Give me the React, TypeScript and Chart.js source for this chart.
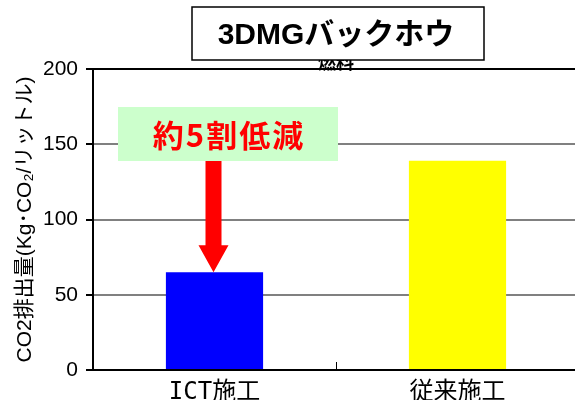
import React, { useEffect, useRef } from "react";
import { Chart, registerables } from "chart.js";
Chart.register(...registerables);

const categories = ["ICT施工", "従来施工"];
const values = [65, 139];
const barColors = ["#0000FF", "#FFFF00"];
const yMin = 0;
const yMax = 200;
const yStep = 50;
const titleText = "3DMGバックホウ";
const hiddenSubtitle = "燃料";
const yAxisTitle = "CO2排出量(Kg･CO₂/リットル)";
const calloutText = "約5割低減";

const FONT = "'Liberation Sans', 'Noto Sans CJK JP', sans-serif";
const XFONT = "'DejaVu Sans Mono', 'Noto Sans CJK JP', sans-serif";

const decorPlugin = {
  id: "decor",
  afterDraw(chart: any) {
    const { ctx, chartArea, scales } = chart;
    const x = scales.x;
    const y = scales.y;
    ctx.save();
    // inner tick between categories
    const mid = (x.getPixelForValue(0) + x.getPixelForValue(1)) / 2;
    ctx.strokeStyle = "#000";
    ctx.lineWidth = 1;
    ctx.beginPath();
    ctx.moveTo(Math.round(mid) + 0.5, chartArea.bottom - 8);
    ctx.lineTo(Math.round(mid) + 0.5, chartArea.bottom);
    ctx.stroke();

    // hidden subtitle behind title box
    const cx = 336;
    ctx.fillStyle = "#000";
    ctx.font = "bold 18px 'Noto Sans CJK JP', sans-serif";
    ctx.textAlign = "center";
    ctx.textBaseline = "middle";
    ctx.fillText(hiddenSubtitle, cx, 62);
    ctx.strokeStyle = "#000";
    ctx.lineWidth = 2;
    ctx.beginPath();
    ctx.moveTo(chartArea.left, y.getPixelForValue(yMax));
    ctx.lineTo(chartArea.right, y.getPixelForValue(yMax));
    ctx.stroke();
    // title box
    ctx.fillStyle = "#fff";
    ctx.fillRect(192, 7, 292, 53);
    ctx.strokeStyle = "#000";
    ctx.lineWidth = 1.5;
    ctx.strokeRect(192, 7, 292, 53);
    ctx.fillStyle = "#000";
    ctx.font = `bold 30px ${FONT}`;
    ctx.fillText(titleText, cx, 36);

    // callout box
    ctx.fillStyle = "#CCFFCC";
    ctx.fillRect(118, 107, 220, 54);
    ctx.fillStyle = "#FF0000";
    ctx.font = `bold 31px 'Noto Sans CJK JP', sans-serif`;
    (ctx as any).letterSpacing = "2px";
    ctx.fillText(calloutText, 229, 135);
    (ctx as any).letterSpacing = "0px";

    // arrow to ICT bar top
    const ax = x.getPixelForValue(0) - 1;
    const tipY = y.getPixelForValue(values[0]);
    const headH = 27;
    ctx.fillStyle = "#FF0000";
    ctx.beginPath();
    ctx.moveTo(ax - 8, 161);
    ctx.lineTo(ax + 8, 161);
    ctx.lineTo(ax + 8, tipY - headH);
    ctx.lineTo(ax + 15, tipY - headH);
    ctx.lineTo(ax, tipY);
    ctx.lineTo(ax - 15, tipY - headH);
    ctx.lineTo(ax - 8, tipY - headH);
    ctx.closePath();
    ctx.fill();
    ctx.restore();
  },
};

export default function App() {
  const ref = useRef<HTMLCanvasElement>(null);
  useEffect(() => {
    if (!ref.current) return;
    const chart = new Chart(ref.current, {
      type: "bar",
      data: {
        labels: categories,
        datasets: [
          {
            data: values,
            backgroundColor: barColors,
            borderWidth: 0,
            barPercentage: 0.4,
            categoryPercentage: 1,
          },
        ],
      },
      options: {
        responsive: false,
        animation: false,
        devicePixelRatio: 1,
        layout: { padding: { top: 69, left: 0, right: 0, bottom: 0 } },
        plugins: { legend: { display: false }, tooltip: { enabled: false }, title: { display: false } },
        scales: {
          x: {
            grid: { display: false },
            border: { display: true, color: "#000", width: 2 },
            ticks: { color: "#000", font: { size: 24, family: XFONT }, padding: 0 },
            afterFit: (s: any) => {
              s.height = 30;
            },
          },
          y: {
            min: yMin,
            max: yMax,
            ticks: {
              stepSize: yStep,
              color: "#000",
              font: { size: 21, family: FONT },
              padding: 8,
            },
            grid: {
              color: (c: any) => (c.tick && c.tick.value === yMax ? "#000" : "#808080"),
              lineWidth: 2,
              tickColor: "#000",
              tickLength: 7,
            },
            border: { display: true, color: "#000", width: 2 },
            title: {
              display: true,
              text: yAxisTitle,
              color: "#000",
              font: { size: 21, family: FONT },
              padding: { top: 13, bottom: 0 },
            },
            afterFit: (s: any) => {
              s.width = 93;
            },
          },
        },
      },
      plugins: [decorPlugin],
    });
    return () => chart.destroy();
  }, []);
  return (
    <div style={{ position: "fixed", left: 0, top: 0, width: 575, height: 400, overflow: "hidden", background: "#fff" }}>
      <canvas ref={ref} width={579} height={400} />
    </div>
  );
}
